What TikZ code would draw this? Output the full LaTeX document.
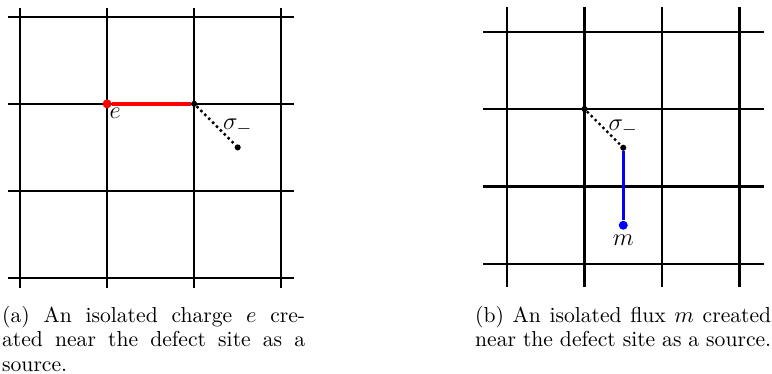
\documentclass[tikz,border=0pt]{standalone}
\usepackage{amsmath,amssymb}
\usepackage{tikz}
\usetikzlibrary{positioning,calc}

\begin{document}
\begin{tikzpicture}[
  lat/.style={line width=1pt},
  site/.style={circle, fill, inner sep=0pt, minimum size=3pt},
  anyon/.style={circle, fill, inner sep=0pt, minimum size=4.4pt},
  dual/.style={line width=1.2pt, dash pattern=on 1.2pt off 1.5pt},
  strg/.style={line width=1.7pt},
  lbl/.style={inner sep=0pt, font=\fontsize{12.7}{15}\selectfont},
  captxt/.style={anchor=north west, inner sep=0pt, align=justify,
                 font=\fontsize{10.6}{11.9}\selectfont}
]
  \useasboundingbox (0,0) rectangle (13.30,6.443);
  \begin{scope}[shift={(0.345,1.654)}, x=1.5cm, y=1.5cm]
    \foreach \i in {0,...,3} {
      \draw[lat] (\i,-0.12) -- (\i,3.1);
      \draw[lat] (-0.14,\i) -- (3.15,\i);
    }
    \node[anyon, red] (e) at (1,2) {};
    \node[site] (lsite) at (2,2) {};
    \node[site] (ldef) at (2.5,1.5) {};
    \draw[strg, red] (e) -- (lsite);
    \draw[dual] (lsite) -- (ldef);
    \node[lbl, inner xsep=1pt, inner ysep=2pt, anchor=north west] (elbl) at (e.center) {$e$};
    \node[lbl, above=4pt of ldef] (lsig) {$\sigma_-$};
  \end{scope}
  \begin{scope}[shift={(8.735,1.895)}, x=1.335cm, y=1.335cm]
    \foreach \i in {0,...,3} {
      \draw[lat] (\i,-0.3) -- (\i,3.31);
      \draw[lat] (-0.31,\i) -- (3.31,\i);
    }
    \node[site] (rsite) at (1,2) {};
    \node[site] (rdef) at (1.5,1.5) {};
    \node[anyon, blue] (m) at (1.5,0.5) {};
    \draw[dual] (rsite) -- (rdef);
    \draw[strg, blue] (rdef) -- (m);
    \node[lbl, below=2pt of m] (mlbl) {$m$};
    \node[lbl, above=4pt of rdef] (rsig) {$\sigma_-$};
  \end{scope}
  \node[captxt, text width=5.22cm] (capa) at (0.03,1.17)
    {(a) An isolated charge $e$ cre-\linebreak ated near the defect site as a source.};
  \node[captxt, text width=5.1cm] (capb) at (8.18,1.17)
    {(b) An isolated flux $m$ created near the defect site as a source.};
\end{tikzpicture}
\end{document}
